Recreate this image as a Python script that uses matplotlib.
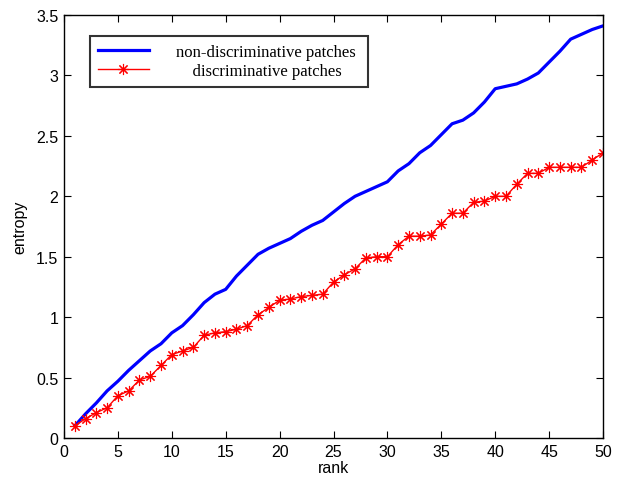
import matplotlib
matplotlib.use("Agg")
import matplotlib.pyplot as plt

rank = list(range(1, 51))
non_disc = [0.10, 0.20, 0.29, 0.39, 0.47, 0.56, 0.64, 0.72, 0.78, 0.87,
            0.93, 1.02, 1.12, 1.19, 1.23, 1.34, 1.43, 1.52, 1.57, 1.61,
            1.65, 1.71, 1.76, 1.80, 1.87, 1.94, 2.00, 2.04, 2.08, 2.12,
            2.21, 2.27, 2.36, 2.42, 2.51, 2.60, 2.63, 2.69, 2.78, 2.89,
            2.91, 2.93, 2.97, 3.02, 3.11, 3.20, 3.30, 3.34, 3.38, 3.41]
disc = [0.10, 0.16, 0.21, 0.25, 0.35, 0.39, 0.48, 0.51, 0.60, 0.69,
        0.72, 0.75, 0.85, 0.87, 0.88, 0.90, 0.93, 1.02, 1.08, 1.14,
        1.15, 1.17, 1.18, 1.19, 1.29, 1.35, 1.40, 1.49, 1.50, 1.50,
        1.60, 1.67, 1.67, 1.68, 1.77, 1.86, 1.86, 1.95, 1.96, 2.00,
        2.00, 2.10, 2.19, 2.19, 2.24, 2.24, 2.24, 2.24, 2.30, 2.36]
labels = ["non-discriminative patches ", "    discriminative patches"]
xticks = [0, 5, 10, 15, 20, 25, 30, 35, 40, 45, 50]
yticks = [0, 0.5, 1, 1.5, 2, 2.5, 3, 3.5]
yticklabels = ["0", "0.5", "1", "1.5", "2", "2.5", "3", "3.5"]

fig = plt.figure(figsize=(6.23, 4.81), dpi=100)
ax = fig.add_axes([64/623, 42/481, 539/623, 423/481])
ax.plot(rank, non_disc, color="#0000ff", lw=2.3, label=labels[0])
ax.plot(rank, disc, color="#ff0000", lw=1.0, marker=(8, 2, 0), ms=8,
        mew=0.8, label=labels[1])
ax.set_xlim(0, 50)
ax.set_ylim(0, 3.5)
ax.set_xticks(xticks)
ax.set_xticklabels([str(t) for t in xticks])
ax.set_yticks(yticks)
ax.set_yticklabels(yticklabels)
ax.tick_params(direction="in", top=True, right=True, length=5, width=0.8,
               labelsize=11.5, labelfontfamily="Liberation Sans", pad=4)
for s in ax.spines.values():
    s.set_linewidth(1.0)
ax.set_xlabel("rank", fontsize=11.5, family="Liberation Sans", labelpad=1)
ax.set_ylabel("entropy", fontsize=11.5, family="Liberation Sans", labelpad=6)
leg = ax.legend(loc="upper left", bbox_to_anchor=(26/539, 1 - 21/423),
                prop={"family": "Liberation Serif", "size": 12},
                frameon=True, fancybox=False, edgecolor="black",
                handlelength=3.05, handletextpad=1.68, borderpad=0.46,
                labelspacing=0.2, borderaxespad=0)
leg.get_frame().set_linewidth(1.5)
fig.savefig("out.png", dpi=100)
